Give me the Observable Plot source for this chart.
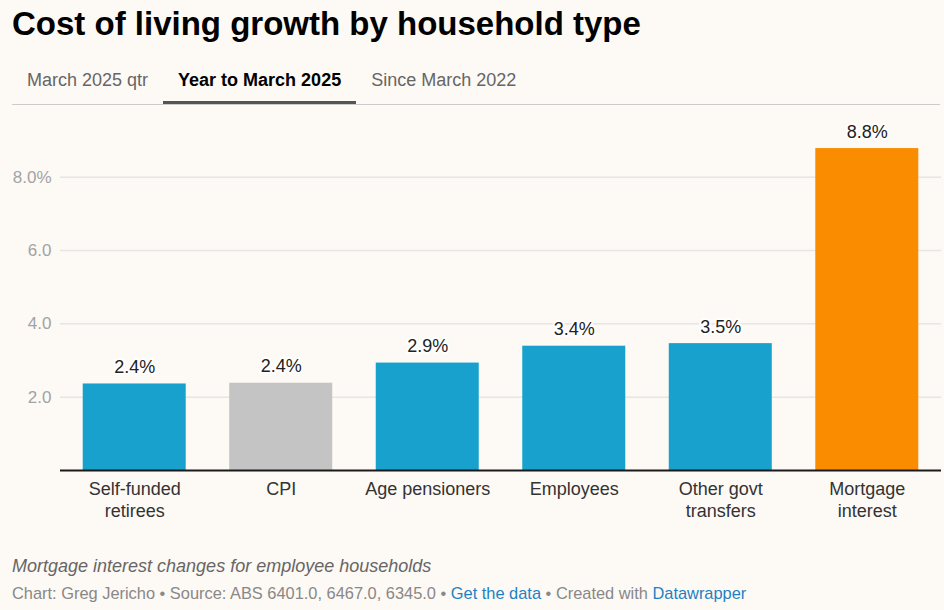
<!DOCTYPE html>
<html>
<head>
<meta charset="utf-8">
<script src="https://cdn.jsdelivr.net/npm/d3@7"></script>
<script src="https://cdn.jsdelivr.net/npm/@observablehq/plot@0.6"></script>
<style>
  html, body { margin: 0; padding: 0; background: #fdf9f5; }
  body { width: 944px; height: 610px; position: relative; overflow: hidden;
         font-family: "Liberation Sans", Arial, Helvetica, sans-serif; }
  #title { position: absolute; left: 12px; top: 7px; font-size: 33px; font-weight: bold;
           line-height: 33px; color: #000; white-space: nowrap; }
  #tabs { position: absolute; left: 12px; top: 66px; width: 928px; height: 38px;
          border-bottom: 1px solid #cccccc; display: flex; }
  .tab { padding: 0 15px; font-size: 18px; line-height: 28px; color: #666; height: 35px;
         box-sizing: border-box; white-space: nowrap; }
  .tab.active { color: #000; font-weight: bold; border-bottom: 3px solid #555; height: 38px; }
  #chart { position: absolute; left: 0; top: 110px; }
  #note { position: absolute; left: 12px; top: 555px; font-size: 18px; font-style: italic;
          color: #666; line-height: 22px; white-space: nowrap; }
  #credit { position: absolute; left: 12px; top: 583px; font-size: 16.4px; color: #888;
            line-height: 20px; white-space: nowrap; }
  #credit a { color: #1d81c4; text-decoration: none; }
</style>
</head>
<body>
<div id="title">Cost of living growth by household type</div>
<div id="tabs">
  <div class="tab">March 2025 qtr</div>
  <div class="tab active">Year to March 2025</div>
  <div class="tab">Since March 2022</div>
</div>
<div id="chart"></div>
<div id="note">Mortgage interest changes for employee households</div>
<div id="credit">Chart: Greg Jericho • Source: ABS 6401.0, 6467.0, 6345.0 • <a>Get the data</a> • Created with <a>Datawrapper</a></div>
<script>
// Data
const categories = ["Self-funded retirees", "CPI", "Age pensioners", "Employees", "Other govt transfers", "Mortgage interest"];
const axisLabels = ["Self-funded\nretirees", "CPI", "Age pensioners", "Employees", "Other govt\ntransfers", "Mortgage\ninterest"];
const values = [2.36, 2.38, 2.93, 3.39, 3.46, 8.78];
const valueLabels = ["2.4%", "2.4%", "2.9%", "3.4%", "3.5%", "8.8%"];
const groups = ["household", "cpi", "household", "household", "household", "mortgage"];
const yTicks = [2, 4, 6, 8];
const yTickLabels = ["2.0", "4.0", "6.0", "8.0%"];

const data = categories.map((c, i) => ({category: c, value: values[i], label: valueLabels[i], group: groups[i]}));

const chart = Plot.plot({
  width: 944,
  height: 420,
  marginLeft: 60,
  marginRight: 3,
  marginTop: 30,
  marginBottom: 60,
  style: {background: "transparent", fontFamily: "'Liberation Sans', Arial, Helvetica, sans-serif", fontSize: "18px", overflow: "visible"},
  x: {domain: categories, paddingInner: 0.297, paddingOuter: 0.155, round: false},
  y: {domain: [0, 9], range: [360, 30]},
  color: {domain: ["household", "cpi", "mortgage"], range: ["#18a1cd", "#c4c4c4", "#fa8c00"]},
  marks: [
    Plot.gridY(yTicks, {stroke: "#e6e6e6", strokeOpacity: 1, strokeWidth: 1.5}),
    Plot.axisY(yTicks, {tickSize: 0, tickPadding: 9, fontSize: 17, fill: "#a3a3a3",
      tickFormat: d => yTickLabels[yTicks.indexOf(d)], label: null}),
    Plot.barY(data, {x: "category", y: "value", fill: "group"}),
    Plot.ruleY([0], {stroke: "#1a1a1a", strokeWidth: 2}),
    Plot.text(data, {x: "category", y: "value", text: "label", lineAnchor: "bottom", dy: -11,
      fontSize: 18, fill: "#222", stroke: "#ffffff", strokeWidth: 4, paintOrder: "stroke"}),
    Plot.axisX({tickSize: 0, tickPadding: 10, fontSize: 18, fill: "#333", lineHeight: 1.17,
      tickFormat: d => axisLabels[categories.indexOf(d)], label: null})
  ]
});
document.getElementById("chart").appendChild(chart);
</script>
</body>
</html>
